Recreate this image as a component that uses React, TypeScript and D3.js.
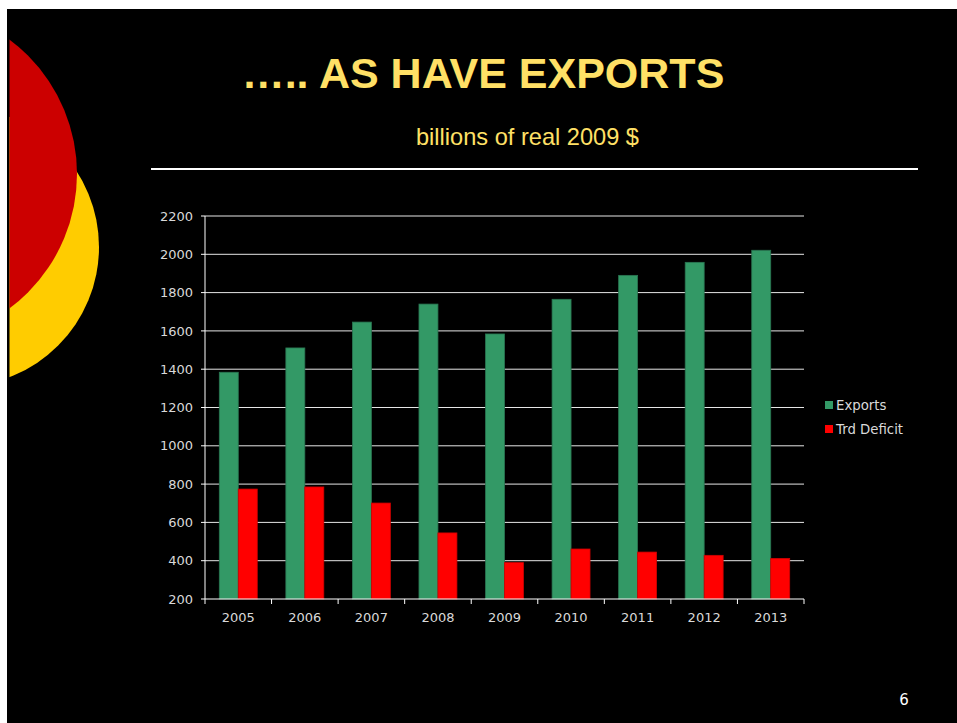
import React from "react";
import * as d3 from "d3";

const years = ["2005", "2006", "2007", "2008", "2009", "2010", "2011", "2012", "2013"];
const exportsVals = [1384, 1511, 1646, 1740, 1584, 1765, 1890, 1958, 2021];
const deficitVals = [774, 785, 701, 545, 390, 461, 445, 428, 412];
const yTicks = [200, 400, 600, 800, 1000, 1200, 1400, 1600, 1800, 2000, 2200];
const seriesNames = ["Exports", "Trd Deficit"];
const seriesColors = ["#339966", "#FF0000"];
const seriesStroke = ["#2a7552", "#d00000"];

const W = 957;
const H = 723;
const plot = { left: 205, right: 804, top: 216, bottom: 599 };

export default function App() {
  const x = d3.scaleBand<string>().domain(years).range([plot.left, plot.right]).padding(0);
  const bw = x.bandwidth();
  const barW = bw * 0.285;
  const gap = (bw - 2 * barW) / 2;
  const y = d3.scaleLinear().domain([200, 2200]).range([plot.bottom, plot.top]);
  const series = [exportsVals, deficitVals];
  const boundaries = years.map((yr) => x(yr) as number).concat([plot.right]);
  const axisFont = "'DejaVu Sans', Verdana, sans-serif";
  const textCol = "#d9d9d9";

  return (
    <svg width={W} height={H} style={{ position: "absolute", left: 0, top: 0 }}>
      <defs>
        <clipPath id="slideClip">
          <rect x={9.5} y={9} width={W} height={H} />
        </clipPath>
      </defs>
      <rect x={0} y={0} width={W} height={H} fill="#ffffff" />
      <rect x={7} y={9} width={W - 7} height={H - 9} fill="#000000" />
      <g clipPath="url(#slideClip)">
        <circle cx={-40.4} cy={247} r={139.4} fill="#FFCC00" />
        <circle cx={-90.5} cy={174} r={167.5} fill="#CC0000" />
      </g>

      <text x={483} y={88} textAnchor="middle" fill="#FFE066"
        style={{ fontFamily: "'Liberation Sans', Arial, sans-serif", fontWeight: "bold", fontSize: 43 }}>
        ….. AS HAVE EXPORTS
      </text>
      <text x={527.5} y={145} textAnchor="middle" fill="#FFE066"
        style={{ fontFamily: "'Liberation Sans', Arial, sans-serif", fontSize: 23.6 }}>
        billions of real 2009 $
      </text>
      <rect x={151} y={168} width={767} height={2} fill="#ffffff" />

      {yTicks.map((t) => (
        <g key={t}>
          {t !== 200 && (
            <line x1={plot.left} x2={plot.right} y1={y(t)} y2={y(t)} stroke="#e6e6e6" strokeWidth={1} />
          )}
          <line x1={plot.left - 4} x2={plot.left} y1={y(t)} y2={y(t)} stroke="#ffffff" strokeWidth={1} />
          <text x={193} y={y(t)} dy="0.36em" textAnchor="end" fill={textCol}
            style={{ fontFamily: axisFont, fontSize: 13 }}>
            {t}
          </text>
        </g>
      ))}

      {years.map((yr, i) => (
        <g key={yr}>
          {series.map((vals, s) => (
            <rect key={s}
              x={(x(yr) as number) + gap + s * barW}
              y={y(vals[i])}
              width={barW}
              height={y(200) - y(vals[i])}
              fill={seriesColors[s]}
              stroke={seriesStroke[s]}
              strokeWidth={0.8}
            />
          ))}
          <text x={(x(yr) as number) + bw / 2} y={622} textAnchor="middle" fill={textCol}
            style={{ fontFamily: axisFont, fontSize: 13 }}>
            {yr}
          </text>
        </g>
      ))}

      <line x1={plot.left} x2={plot.left} y1={plot.top} y2={plot.bottom} stroke="#ffffff" strokeWidth={1} />
      <line x1={plot.left} x2={plot.right} y1={plot.bottom} y2={plot.bottom} stroke="#ffffff" strokeWidth={1} />
      {boundaries.map((bx, i) => (
        <line key={i} x1={bx} x2={bx} y1={plot.bottom} y2={plot.bottom + 5} stroke="#ffffff" strokeWidth={1} />
      ))}

      {seriesNames.map((n, s) => (
        <g key={n}>
          <rect x={825} y={401 + s * 24} width={8} height={8} fill={seriesColors[s]} />
          <text x={836} y={410 + s * 24} fill={textCol} style={{ fontFamily: axisFont, fontSize: 13.3 }}>
            {n}
          </text>
        </g>
      ))}

      <text x={904} y={705} textAnchor="middle" fill="#ffffff"
        style={{ fontFamily: axisFont, fontSize: 15 }}>
        6
      </text>
    </svg>
  );
}
